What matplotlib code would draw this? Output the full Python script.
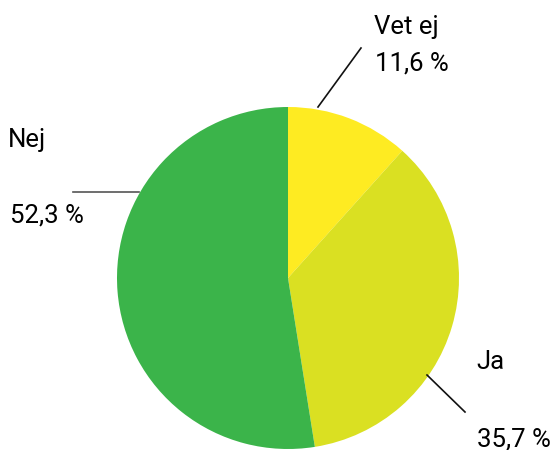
import matplotlib.pyplot as plt

labels = ['Vet ej', 'Ja', 'Nej']
values = [11.6, 35.7, 52.3]
value_texts = ['11,6 %', '35,7 %', '52,3 %']
colors = ['#FEEB22', '#DAE022', '#3BB44A']

plt.rcParams['font.family'] = ['Roboto', 'DejaVu Sans']

W, H = 553, 450
fig = plt.figure(figsize=(W / 100, H / 100), dpi=100)
ax = fig.add_axes([0, 0, 1, 1])

ax.pie(values, colors=colors, startangle=90, counterclock=False,
       center=(288, H - 278), radius=171, frame=True,
       wedgeprops=dict(linewidth=0))
ax.set_xlim(0, W)
ax.set_ylim(0, H)
ax.set_aspect('equal')
ax.axis('off')

# label placement (pixel coords from top-left)
name_pos = {'Vet ej': (374, 27), 'Ja': (476, 362), 'Nej': (8, 140)}
val_pos = {'Vet ej': (375, 64), 'Ja': (477, 439), 'Nej': (10, 215)}
leaders = {'Vet ej': ((361, 48), (318, 107)),
           'Ja': ((427, 375), (465, 412)),
           'Nej': ((73, 192), (139, 192))}

for name, vt in zip(labels, value_texts):
    x, y = name_pos[name]
    ax.text(x, H - y, name, fontsize=18.5, va='center', ha='left', color='#000000')
    x, y = val_pos[name]
    ax.text(x, H - y, vt, fontsize=18.5, va='center', ha='left', color='#000000')
    (x0, y0), (x1, y1) = leaders[name]
    lc = '#555555' if name == 'Nej' else '#111111'
    ax.plot([x0, x1], [H - y0, H - y1], color=lc, lw=1.2)

fig.savefig('out.png', dpi=100)
